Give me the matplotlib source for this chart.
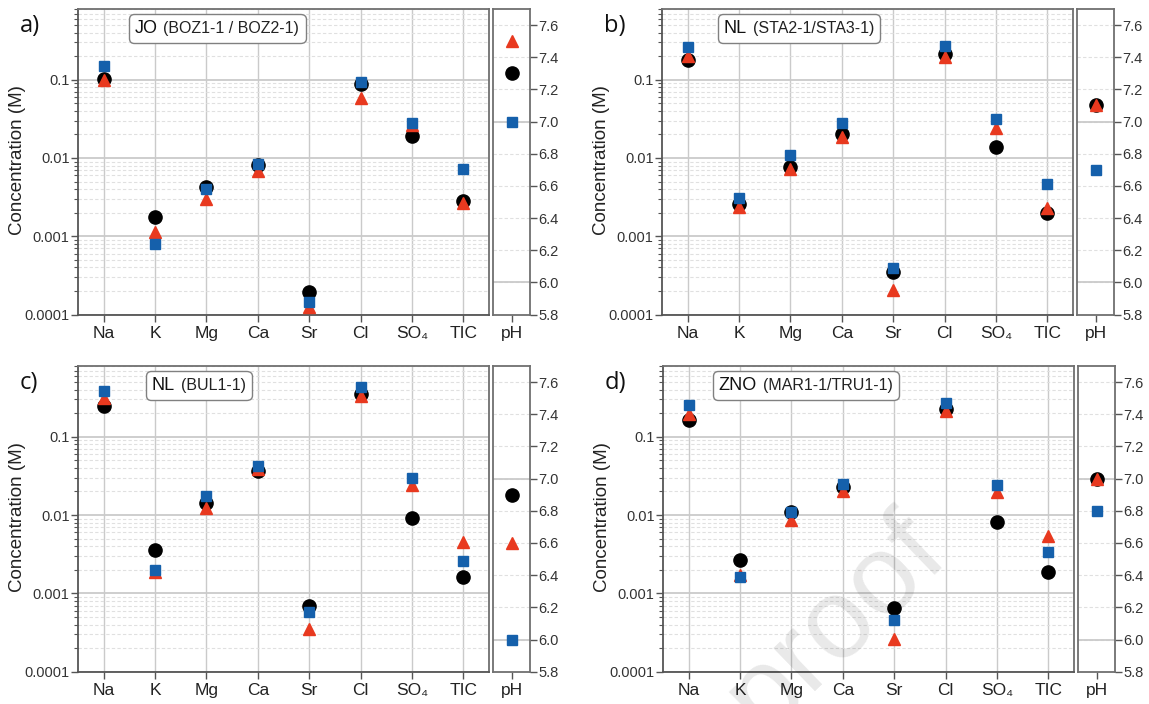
import matplotlib
matplotlib.use('Agg')
import matplotlib.pyplot as plt
import numpy as np
from matplotlib.offsetbox import AnchoredOffsetbox, TextArea, HPacker
from matplotlib.ticker import LogLocator, NullFormatter, FixedLocator, FixedFormatter

SANS = ['Liberation Sans', 'DejaVu Sans']
plt.rcParams['font.family'] = SANS

categories = ['Na', 'K', 'Mg', 'Ca', 'Sr', 'Cl', 'SO₄', 'TIC']
ph_label = ['pH']
conc_ticks = [1e-4, 1e-3, 1e-2, 1e-1]
conc_ticklabels = ['0.0001', '0.001', '0.01', '0.1']
ph_ticks = [5.8, 6.0, 6.2, 6.4, 6.6, 6.8, 7.0, 7.2, 7.4, 7.6]
ph_ticklabels = ['5.8', '6.0', '6.2', '6.4', '6.6', '6.8', '7.0', '7.2', '7.4', '7.6']

# Panel a) JO (BOZ1-1 / BOZ2-1)
a_circle = [0.103, 0.00175, 0.0042, 0.0081, 0.000194, 0.089, 0.019, 0.00279]
a_triangle = [0.100, 0.00112, 0.00296, 0.0068, 0.000124, 0.059, 0.026, 0.00263]
a_square = [0.149, 0.00080, 0.0040, 0.0083, 0.000143, 0.093, 0.0283, 0.00713]
a_ph = [7.3, 7.5, 7.0]

# Panel b) NL (STA2-1/STA3-1)
b_circle = [0.18, 0.00256, 0.0077, 0.0205, 0.000347, 0.214, 0.0138, 0.0020]
b_triangle = [0.198, 0.00238, 0.0072, 0.0186, 0.000203, 0.194, 0.0242, 0.00231]
b_square = [0.26, 0.00305, 0.011, 0.028, 0.00039, 0.273, 0.0319, 0.0046]
b_ph = [7.1, 7.1, 6.7]

# Panel c) NL (BUL1-1)
c_circle = [0.25, 0.00354, 0.0142, 0.036, 0.00070, 0.35, 0.00916, 0.00162]
c_triangle = [0.31, 0.0019, 0.0123, 0.0387, 0.000354, 0.334, 0.0242, 0.00448]
c_square = [0.38, 0.0020, 0.0173, 0.042, 0.00058, 0.427, 0.0297, 0.00261]
c_ph = [6.9, 6.6, 6.0]

# Panel d) ZNO (MAR1-1/TRU1-1)
d_circle = [0.165, 0.00264, 0.0111, 0.0226, 0.000645, 0.225, 0.0082, 0.00187]
d_triangle = [0.197, 0.0017, 0.0087, 0.020, 0.000264, 0.21, 0.0195, 0.00544]
d_square = [0.254, 0.00162, 0.011, 0.0246, 0.000462, 0.269, 0.0244, 0.00334]
d_ph = [7.0, 7.0, 6.8]

panel_letters = ['a)', 'b)', 'c)', 'd)']
site_names = ['JO', 'NL', 'NL', 'ZNO']
site_samples = ['(BOZ1-1 / BOZ2-1)', '(STA2-1/STA3-1)', '(BUL1-1)', '(MAR1-1/TRU1-1)']

RED = '#e8391f'
BLUE = '#1560ab'
BLACK = '#000000'
SPINE = '#707070'
GRID = '#cacaca'
MINOR_GRID = '#e0e0e0'

W, H = 1149, 704
fig = plt.figure(figsize=(W / 100, H / 100), dpi=100)


def px_axes(l, t, w, h):
    return fig.add_axes([l / W, 1 - (t + h) / H, w / W, h / H])


layout = [
    # main (l, t, w, h), ph left, box left offset px
    ((78, 9, 411, 305.5), 493, 52),
    ((662, 9, 411, 305.5), 1077, 57),
    ((78, 366, 411, 305.7), 493, 69),
    ((663, 366, 411, 305.7), 1078, 51),
]

data = [
    (a_circle, a_triangle, a_square, a_ph),
    (b_circle, b_triangle, b_square, b_ph),
    (c_circle, c_triangle, c_square, c_ph),
    (d_circle, d_triangle, d_square, d_ph),
]

for i, ((rect, ph_left, box_off), (circ, tri, sq, ph)) in enumerate(zip(layout, data)):
    l, t, w, h = rect
    ax = px_axes(l, t, w, h)
    x = np.arange(len(categories))
    ax.set_yscale('log')
    ax.set_ylim(1e-4, 0.8)
    ax.set_xlim(-0.5, len(categories) - 0.5)
    ax.set_axisbelow(True)
    ax.yaxis.set_major_locator(FixedLocator(conc_ticks))
    ax.yaxis.set_major_formatter(FixedFormatter(conc_ticklabels))
    ax.yaxis.set_minor_locator(LogLocator(base=10, subs=np.arange(2, 10)))
    ax.yaxis.set_minor_formatter(NullFormatter())
    ax.set_xticks(x)
    ax.set_xticklabels(categories)
    ax.grid(axis='y', which='major', color=GRID, lw=1.3)
    ax.grid(axis='y', which='minor', color=MINOR_GRID, lw=0.8, ls=(0, (3, 2)))
    ax.grid(axis='x', which='major', color=GRID, lw=1.0)
    ax.tick_params(axis='y', which='major', direction='out', length=5, width=1,
                   color='#555555', labelcolor='#333333', labelsize=10.5, pad=1)
    ax.tick_params(axis='y', which='minor', direction='out', length=3, width=0.8,
                   color='#555555')
    ax.tick_params(axis='x', which='major', direction='out', length=5, width=1,
                   color='#555555', labelcolor='#222222', labelsize=12.5, pad=3)
    for s in ax.spines.values():
        s.set_color(SPINE)
        s.set_linewidth(1.3)
    ax.spines['left'].set_color('#555555')
    ax.spines['bottom'].set_color('#555555')

    ax.plot(x, circ, 'o', ms=9.5, color=BLACK, mec=BLACK, zorder=3, clip_on=False)
    ax.plot(x, tri, '^', ms=8.5, color=RED, mec=RED, zorder=4, clip_on=False)
    ax.plot(x, sq, 's', ms=7.5, color=BLUE, mec=BLUE, zorder=5, clip_on=False)

    ax.set_ylabel('Concentration (M)', fontsize=13.5, color='#222222')
    ax.yaxis.set_label_coords(-0.127, 0.507)

    ax.text(-58 / w, 1 - 5 / h, panel_letters[i], transform=ax.transAxes,
            ha='left', va='top', fontsize=17, family=['Open Sans', 'DejaVu Sans'],
            color='#111111')

    ta1 = TextArea(site_names[i], textprops=dict(fontsize=13, color='#111111'))
    ta2 = TextArea(site_samples[i], textprops=dict(fontsize=11.5, color='#222222'))
    pack = HPacker(children=[ta1, ta2], pad=0, sep=4, align='baseline')
    anc = AnchoredOffsetbox(loc='upper left', child=pack, pad=0.35, borderpad=0,
                            frameon=True, bbox_to_anchor=(box_off / w, 1 - 6 / h),
                            bbox_transform=ax.transAxes)
    anc.patch.set_boxstyle('round,pad=0.1,rounding_size=0.4')
    anc.patch.set_edgecolor('#808080')
    anc.patch.set_linewidth(1.0)
    anc.patch.set_facecolor('white')
    anc.set_zorder(6)
    ax.add_artist(anc)

    # pH axes
    axp = px_axes(ph_left, t, 37, h)
    axp.set_xlim(-0.5, 0.5)
    axp.set_ylim(5.8, 7.7)
    axp.set_axisbelow(True)
    axp.set_xticks([0])
    axp.set_xticklabels(ph_label)
    axp.yaxis.tick_right()
    axp.yaxis.set_major_locator(FixedLocator(ph_ticks))
    axp.yaxis.set_major_formatter(FixedFormatter(ph_ticklabels))
    axp.grid(axis='y', which='major', color=MINOR_GRID, lw=0.8, ls=(0, (3, 2)))
    for gv in (6.0, 7.0):
        axp.axhline(gv, color=GRID, lw=1.3, zorder=1)
    axp.tick_params(axis='y', which='major', direction='out', length=5, width=1,
                    color='#555555', labelcolor='#333333', labelsize=10.5, pad=1)
    axp.tick_params(axis='x', which='major', direction='out', length=5, width=1,
                    color='#555555', labelcolor='#222222', labelsize=12.5, pad=3)
    for s in axp.spines.values():
        s.set_color(SPINE)
        s.set_linewidth(1.3)
    axp.plot([0], [ph[0]], 'o', ms=9.5, color=BLACK, zorder=3, clip_on=False)
    axp.plot([0], [ph[1]], '^', ms=8.5, color=RED, zorder=4, clip_on=False)
    axp.plot([0], [ph[2]], 's', ms=7.5, color=BLUE, zorder=5, clip_on=False)

fig.text(836 / W, 1 - 624 / H, 'proof', rotation=44, rotation_mode='anchor',
         ha='center', va='center', fontsize=82, color='#000000',
         alpha=0.09, zorder=20)

fig.savefig('out.png', dpi=100)
